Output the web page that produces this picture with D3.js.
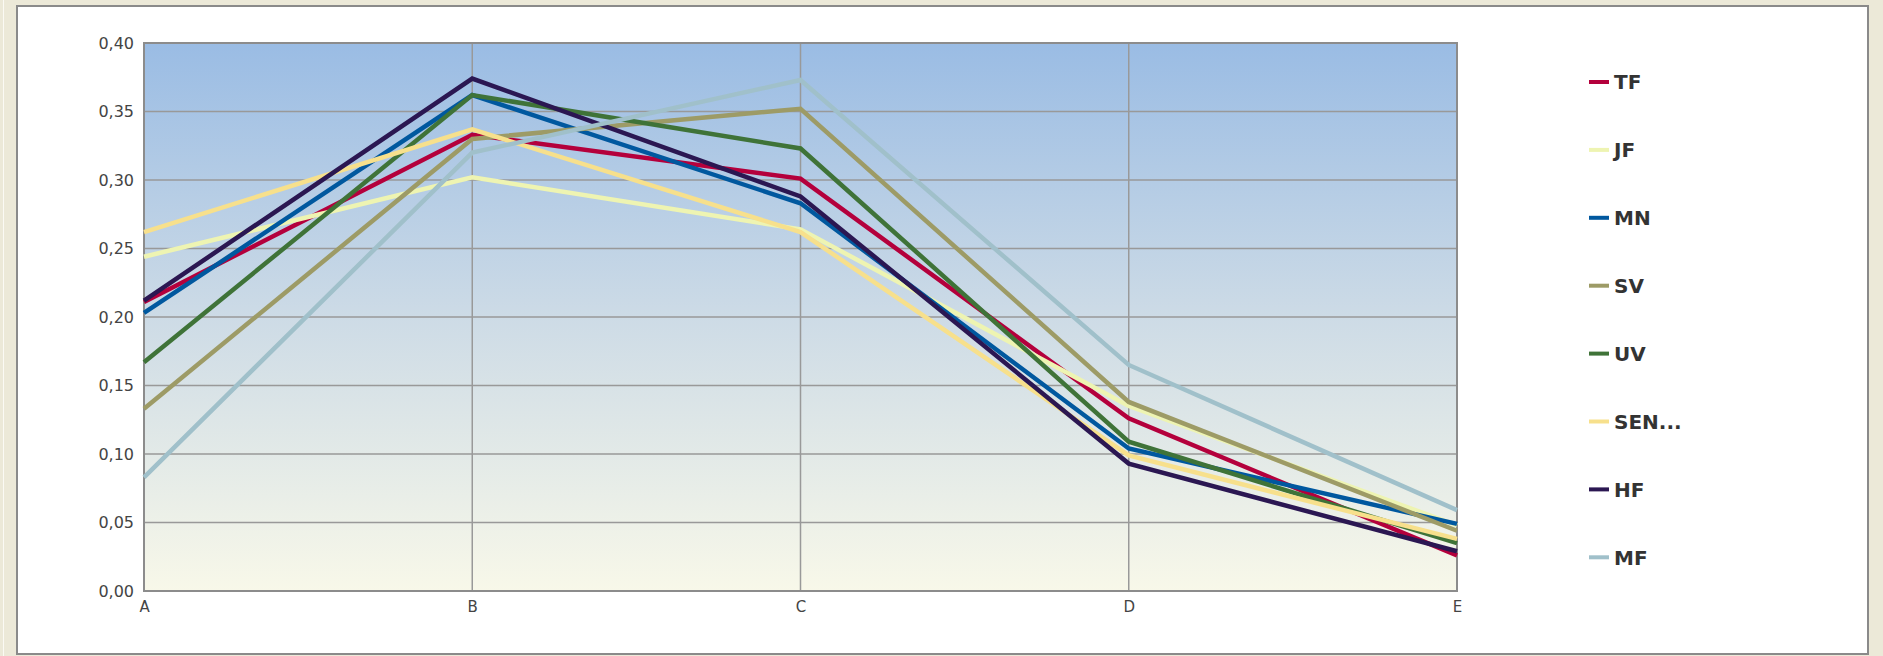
<!DOCTYPE html>
<html lang="en">
<head>
    <meta charset="utf-8">
    <title>Line chart</title>
    <script src="https://cdn.jsdelivr.net/npm/d3@7"></script>
    <style>
        body { margin: 0; background: #ece9d8; }
        svg { display: block; }
    </style>
</head>
<body>
    <script>

        // categories and tick labels
        var categories = ["A", "B", "C", "D", "E"];
        var yTicks = [0, 0.05, 0.10, 0.15, 0.20, 0.25, 0.30, 0.35, 0.40];

        // series
        var seriesNames = ["TF", "JF", "MN", "SV", "UV", "SEN...", "HF", "MF"];
        var seriesColors = ["#b4003c", "#eef4b2", "#00589f", "#9d9b66", "#3f7338", "#f7e08c", "#2b1752", "#a0c0ca"];
        var TF  = [0.211, 0.333, 0.301, 0.126, 0.026];
        var JF  = [0.244, 0.302, 0.264, 0.135, 0.048];
        var MN  = [0.203, 0.362, 0.283, 0.104, 0.049];
        var SV  = [0.133, 0.330, 0.352, 0.138, 0.044];
        var UV  = [0.167, 0.362, 0.323, 0.109, 0.035];
        var SEN = [0.262, 0.337, 0.262, 0.099, 0.038];
        var HF  = [0.212, 0.374, 0.288, 0.093, 0.029];
        var MF  = [0.083, 0.320, 0.373, 0.165, 0.059];
        var seriesValues = [TF, JF, MN, SV, UV, SEN, HF, MF];

        var w = 1883, h = 656;
        var margin = {left: 144, top: 43, right: 1457, bottom: 591};

        var svg = d3.select("body").append("svg")
            .attr("width", w)
            .attr("height", h);

        // window frame
        svg.append("rect")
            .attr("x", 3).attr("y", 0).attr("width", 1).attr("height", h)
            .attr("fill", "#fbfaf4");
        svg.append("rect")
            .attr("x", 17).attr("y", 6).attr("width", 1851).attr("height", 648)
            .attr("fill", "#fff")
            .attr("stroke", "#8a8a8a")
            .attr("stroke-width", 2);

        var x = d3.scalePoint()
            .domain(categories)
            .range([margin.left, margin.right]);

        var y = d3.scaleLinear()
            .domain([0, 0.40])
            .range([margin.bottom, margin.top]);

        // plot background gradient
        var defs = svg.append("defs");
        var grad = defs.append("linearGradient")
            .attr("id", "bg")
            .attr("x1", 0).attr("y1", 0).attr("x2", 0).attr("y2", 1);
        grad.append("stop").attr("offset", "0%").attr("stop-color", "#9abce4");
        grad.append("stop").attr("offset", "50%").attr("stop-color", "#cddbe6");
        grad.append("stop").attr("offset", "100%").attr("stop-color", "#f8f8e9");

        svg.append("rect")
            .attr("x", margin.left).attr("y", margin.top)
            .attr("width", margin.right - margin.left)
            .attr("height", margin.bottom - margin.top)
            .attr("fill", "url(#bg)");

        // grid lines
        svg.append("g")
            .selectAll("line.h")
            .data(yTicks)
            .enter().append("line")
            .attr("x1", margin.left).attr("x2", margin.right)
            .attr("y1", function(d) { return y(d); })
            .attr("y2", function(d) { return y(d); })
            .attr("stroke", "#999")
            .attr("stroke-width", 1.5);

        svg.append("g")
            .selectAll("line.v")
            .data(categories)
            .enter().append("line")
            .attr("x1", function(d) { return x(d); })
            .attr("x2", function(d) { return x(d); })
            .attr("y1", margin.top).attr("y2", margin.bottom)
            .attr("stroke", "#999")
            .attr("stroke-width", 1.5);

        // plot border
        svg.append("rect")
            .attr("x", margin.left).attr("y", margin.top)
            .attr("width", margin.right - margin.left)
            .attr("height", margin.bottom - margin.top)
            .attr("fill", "none")
            .attr("stroke", "#8c8c8c")
            .attr("stroke-width", 2);

        // y axis
        var yAxis = d3.axisLeft(y)
            .tickValues(yTicks)
            .tickSize(0)
            .tickPadding(10)
            .tickFormat(function(d) { return d3.format(".2f")(d).replace(".", ","); });

        svg.append("g")
            .attr("transform", "translate(" + margin.left + ",0)")
            .call(yAxis)
            .call(function(g) { g.select(".domain").remove(); })
            .selectAll("text")
            .attr("fill", "#444")
            .style("font-family", "DejaVu Sans")
            .style("font-size", "16px");

        // x axis
        var xAxis = d3.axisBottom(x)
            .tickSize(0)
            .tickPadding(10);

        svg.append("g")
            .attr("transform", "translate(0," + margin.bottom + ")")
            .call(xAxis)
            .call(function(g) { g.select(".domain").remove(); })
            .selectAll("text")
            .attr("fill", "#444")
            .style("font-family", "DejaVu Sans")
            .style("font-size", "15px");

        // lines
        var line = d3.line()
            .x(function(d, i) { return x(categories[i]); })
            .y(function(d) { return y(d); });

        svg.append("g")
            .selectAll("path")
            .data(seriesValues)
            .enter().append("path")
            .attr("d", line)
            .attr("fill", "none")
            .attr("stroke", function(d, i) { return seriesColors[i]; })
            .attr("stroke-width", 4.5)
            .attr("stroke-linejoin", "miter");

        // legend
        var legend = svg.append("g")
            .selectAll("g")
            .data(seriesNames)
            .enter().append("g")
            .attr("transform", function(d, i) { return "translate(1589," + (82 + i * 67.9) + ")"; });

        legend.append("line")
            .attr("x1", 0).attr("x2", 20)
            .attr("y1", 0).attr("y2", 0)
            .attr("stroke", function(d, i) { return seriesColors[i]; })
            .attr("stroke-width", 4);

        legend.append("text")
            .attr("x", 25)
            .attr("dy", "0.36em")
            .attr("fill", "#333")
            .style("font-family", "DejaVu Sans")
            .style("font-weight", "bold")
            .style("font-size", "20px")
            .text(function(d) { return d; });

    </script>
</body>
</html>
